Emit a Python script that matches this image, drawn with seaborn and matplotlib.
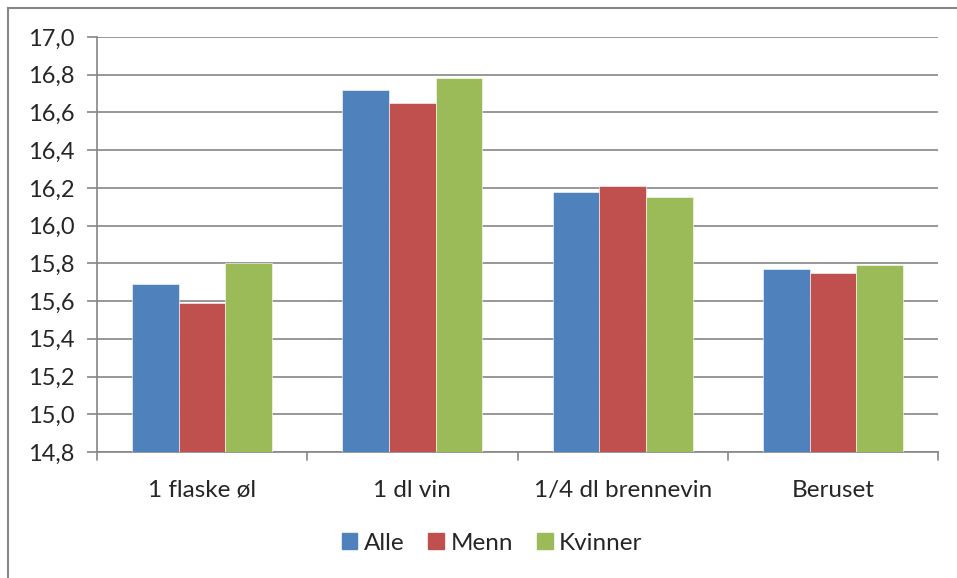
import pandas as pd
import matplotlib.pyplot as plt
from matplotlib.patches import Rectangle
import seaborn as sns

kategorier = ['1 flaske øl', '1 dl vin', '1/4 dl brennevin', 'Beruset']
alle = [15.69, 16.72, 16.18, 15.77]
menn = [15.59, 16.65, 16.21, 15.75]
kvinner = [15.80, 16.78, 16.15, 15.79]
serier = ['Alle', 'Menn', 'Kvinner']
farger = ['#4F81BD', '#C0504D', '#9BBB59']
yticks = [14.8 + 0.2 * i for i in range(12)]

df = pd.DataFrame({
    'kategori': kategorier * 3,
    'alder': alle + menn + kvinner,
    'gruppe': [s for s in serier for _ in kategorier],
})

sns.set_style('white')
plt.rcParams['font.family'] = ['Lato', 'DejaVu Sans']

fig = plt.figure(figsize=(9.57, 5.78), dpi=100)
ax = fig.add_axes([97 / 957, 1 - 452 / 578, (938 - 97) / 957, (452 - 37) / 578])

sns.barplot(data=df, x='kategori', y='alder', hue='gruppe', palette=farger,
            width=2 / 3, saturation=1, ax=ax, legend=False, zorder=3)
for p in ax.patches:
    p.set_edgecolor('white')
    p.set_linewidth(0.4)

ax.set_ylim(14.8, 17.0)
ax.set_xlim(-0.5, 3.5)
ax.set_yticks(yticks)
ax.set_yticklabels([f'{v:.1f}'.replace('.', ',') for v in yticks], fontsize=17)
ax.set_xticks(range(4))
ax.set_xticklabels(kategorier, fontsize=17.5)
ax.tick_params(axis='x', length=0, pad=20)
ax.tick_params(axis='y', length=7, width=1.2, color='#868686', pad=9, left=True)
ax.yaxis.grid(True, color='#868686', linewidth=1.2, zorder=0)
ax.set_axisbelow(True)
for s in ['top', 'right']:
    ax.spines[s].set_visible(False)
for s in ['left', 'bottom']:
    ax.spines[s].set_color('#868686')
    ax.spines[s].set_linewidth(1.2)
for xb in [-0.5, 0.5, 1.5, 2.5, 3.5]:
    ax.plot([xb, xb], [0, -0.02], transform=ax.get_xaxis_transform(),
            color='#868686', lw=1.2, clip_on=False)
ax.set_xlabel('')
ax.set_ylabel('')

handles = [Rectangle((0, 0), 1, 1, color=c) for c in farger]
fig.legend(handles, serier, loc='center', bbox_to_anchor=(492 / 957, 1 - 543 / 578),
           ncol=3, frameon=False, fontsize=17.5, handlelength=0.65, handleheight=0.65,
           handletextpad=0.25, columnspacing=1.0)

fig.patches.append(Rectangle((8 / 957, -0.1), 1.2, 1 - 8 / 578 + 0.1, transform=fig.transFigure,
                             fill=False, edgecolor='#868686', linewidth=1.5))

fig.savefig('out.png', dpi=100)
